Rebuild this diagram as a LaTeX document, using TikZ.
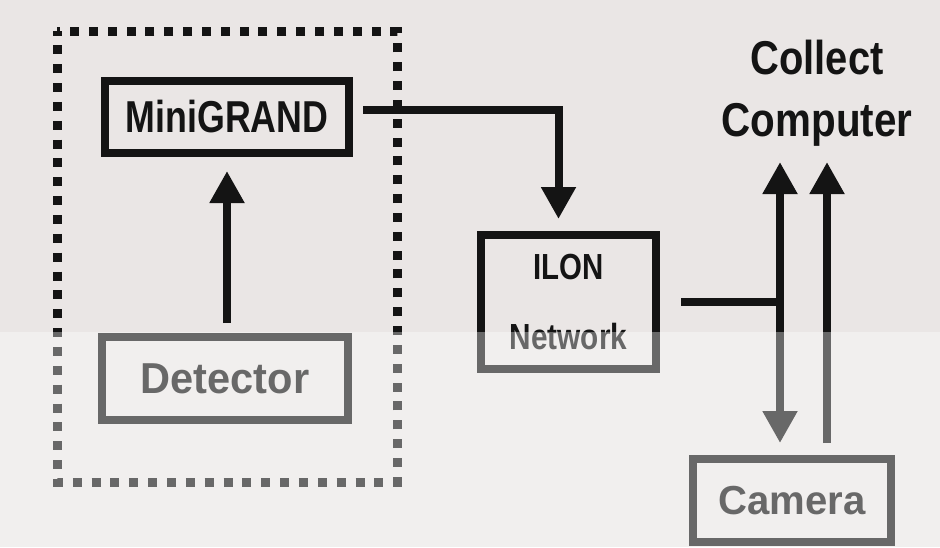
\documentclass[tikz,border=0pt]{standalone}
\usepackage{graphicx}
\usepackage{fontspec}
\setmainfont{Liberation Sans}
\usetikzlibrary{arrows.meta, positioning}

\definecolor{paper}{HTML}{EAE6E5}
\definecolor{ink}{HTML}{141414}
\newcommand{\squeeze}[2]{\scalebox{#1}[1]{#2}}

\tikzset{
  bigtip/.tip={Triangle[width=33pt, length=32pt]},
  box/.style={draw=ink, line width=8pt, inner sep=0pt, text=ink},
  wire/.style={draw=ink, line width=8pt},
  link/.style={wire, -bigtip},
  dlink/.style={wire, bigtip-bigtip},
}

\begin{document}
\begin{tikzpicture}[x=1pt, y=-1pt]
  % paper
  \useasboundingbox (0,0) rectangle (940,547);
  \fill[paper] (0,0) rectangle (940,547);
  % dotted group round the sensor side
  \draw[ink, line width=9pt, dash pattern=on 9pt off 9.85pt, dash phase=4.5pt]
    (57,31) rectangle (397,482);
  % boxes
  \node[box, minimum width=244pt, minimum height=72pt,
        font=\fontsize{44.7}{50}\selectfont\bfseries] (mini) at (227,117)
        {\squeeze{0.80}{MiniGRAND}};
  \node[box, minimum width=246pt, minimum height=83pt,
        font=\fontsize{43.3}{50}\selectfont\bfseries] (det) at (225,378.5)
        {\squeeze{0.96}{Detector}};
  \node[box, minimum width=175pt, minimum height=134pt, align=center,
        font=\fontsize{36.3}{70}\selectfont\bfseries] (ilon) at (568.5,302)
        {\squeeze{0.81}{ILON}\\\squeeze{0.82}{Network}};
  \node[box, minimum width=198pt, minimum height=83pt,
        font=\fontsize{40.5}{50}\selectfont\bfseries] (cam) at (792,500.5)
        {\squeeze{0.99}{Camera}};
  \node[inner sep=0pt, align=center, text=ink,
        font=\fontsize{47.5}{62}\selectfont\bfseries] (collect) at (817,93)
        {\squeeze{0.84}{Collect}\\\squeeze{0.85}{Computer}};
  % free ends of the camera lines
  \coordinate (top) at (0,162);
  \coordinate (camin) at ([xshift=-12pt]cam.north);
  \coordinate (camout) at ([xshift=35pt]cam.north);
  % connectors
  \draw[link, shorten <=10pt, shorten >=14pt] (mini.south |- det.north) -- (mini.south);
  \draw[link, line join=miter, shorten <=10pt, shorten >=12pt]
    ([yshift=7pt]mini.east) -| ([xshift=-10pt]ilon.north);
  \draw[wire, shorten <=21pt] (ilon.east) -- (ilon.east -| camin);
  \draw[dlink, shorten >=12pt] (camin |- top) -- (camin);
  \draw[link, shorten <=12pt] (camout) -- (camout |- top);
  % faded lower half of the scan
  \fill[white, opacity=0.36] (0,332) rectangle (940,547);
\end{tikzpicture}
\end{document}
